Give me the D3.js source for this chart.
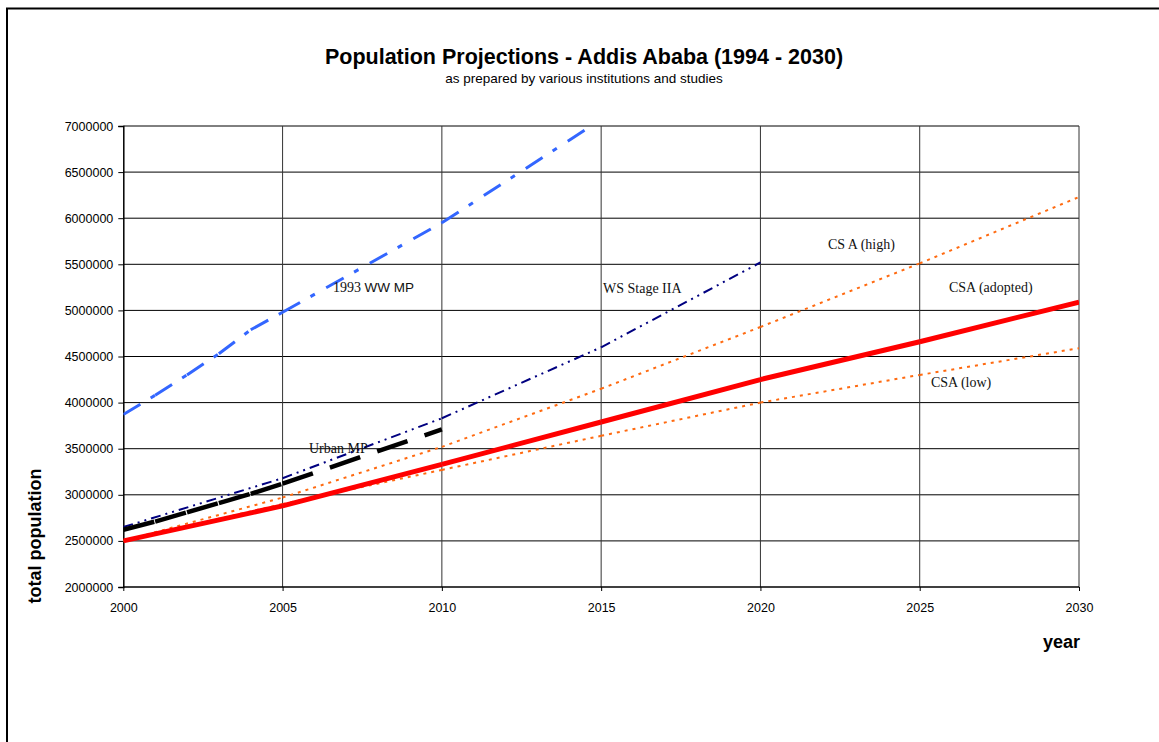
<!DOCTYPE html>
<html>
<head>
<meta charset="utf-8">
<script src="https://cdn.jsdelivr.net/npm/d3@7"></script>
<style>
  html, body { margin: 0; padding: 0; background: #fff; }
  svg { display: block; }
</style>
</head>
<body>
<svg id="chart" width="1159" height="742"></svg>
<script>
// Population projections for Addis Ababa, by source
const wwYears = [2000, 2001, 2002, 2003, 2004, 2005, 2010, 2015];
const wwValues = [3870000, 4080000, 4300000, 4530000, 4790000, 4980000, 5950000, 7070000];

const urbanYears = [2000, 2001, 2002, 2003, 2004, 2005, 2010];
const urbanValues = [2620000, 2710000, 2810000, 2910000, 3010000, 3120000, 3710000];

const wsYears = [2000, 2005, 2010, 2015, 2020];
const wsValues = [2650000, 3180000, 3830000, 4600000, 5520000];

const csaYears = [2000, 2005, 2010, 2015, 2020, 2025, 2030];
const csaHigh = [2500000, 2970000, 3520000, 4150000, 4820000, 5510000, 6230000];
const csaAdopted = [2500000, 2880000, 3330000, 3790000, 4250000, 4660000, 5090000];
const csaLow = [2500000, 2900000, 3270000, 3640000, 4000000, 4300000, 4590000];

const xTicks = [2000, 2005, 2010, 2015, 2020, 2025, 2030];
const yTicks = [2000000, 2500000, 3000000, 3500000, 4000000, 4500000, 5000000, 5500000, 6000000, 6500000, 7000000];

const svg = d3.select("#chart");
const W = 1159, H = 742;
const plot = { left: 123.3, right: 1079, top: 126, bottom: 587 };
const sans = "Liberation Sans, Arial, sans-serif";
const serif = "Liberation Serif, Times New Roman, serif";

const x = d3.scaleLinear().domain([2000, 2030]).range([plot.left, plot.right]);
const y = d3.scaleLinear().domain([2000000, 7000000]).range([plot.bottom, plot.top]);

// outer frame (open towards the right and bottom edges)
svg.append("rect")
  .attr("x", 7).attr("y", 8.5)
  .attr("width", W + 20).attr("height", H + 20)
  .attr("fill", "none").attr("stroke", "#000").attr("stroke-width", 2);

// title
svg.append("text")
  .attr("x", 584).attr("y", 57)
  .attr("text-anchor", "middle").attr("dominant-baseline", "central")
  .attr("font-family", sans)
  .attr("font-weight", "bold").attr("font-size", 21.5)
  .text("Population Projections - Addis Ababa (1994 - 2030)");
svg.append("text")
  .attr("x", 584).attr("y", 78)
  .attr("text-anchor", "middle").attr("dominant-baseline", "central")
  .attr("font-family", sans)
  .attr("font-size", 13.5)
  .text("as prepared by various institutions and studies");

// gridlines
const grid = svg.append("g").attr("class", "grid");
grid.selectAll("line.h").data(yTicks.slice(1)).join("line")
  .attr("class", "h")
  .attr("x1", plot.left).attr("x2", plot.right)
  .attr("y1", d => y(d)).attr("y2", d => y(d))
  .attr("stroke", "#000").attr("stroke-width", 1);
grid.selectAll("line.v").data(xTicks.slice(1)).join("line")
  .attr("class", "v")
  .attr("y1", plot.top).attr("y2", plot.bottom)
  .attr("x1", d => x(d)).attr("x2", d => x(d))
  .attr("stroke", "#333").attr("stroke-width", 1);

// axes
const yAxis = svg.append("g")
  .attr("transform", `translate(${plot.left},0)`)
  .call(d3.axisLeft(y).tickValues(yTicks).tickFormat(d3.format("d")).tickSize(5).tickPadding(5));
const xAxis = svg.append("g")
  .attr("transform", `translate(0,${plot.bottom})`)
  .call(d3.axisBottom(x).tickValues(xTicks).tickFormat(d3.format("d")).tickSize(4).tickPadding(12));
[yAxis, xAxis].forEach(g => {
  g.select(".domain").attr("stroke", "#000").attr("stroke-width", 1.5);
  g.selectAll(".tick line").attr("stroke", "#000");
  g.selectAll("text")
    .attr("font-family", sans)
    .attr("font-size", 12.5).attr("fill", "#000");
});
xAxis.selectAll(".domain").attr("d", `M${plot.left},0H${plot.right}`);

// axis titles
svg.append("text")
  .attr("x", 1080).attr("y", 642)
  .attr("text-anchor", "end").attr("dominant-baseline", "central")
  .attr("font-family", sans)
  .attr("font-weight", "bold").attr("font-size", 18)
  .text("year");
svg.append("text")
  .attr("transform", "translate(35,536) rotate(-90)")
  .attr("text-anchor", "middle").attr("dominant-baseline", "central")
  .attr("font-family", sans)
  .attr("font-weight", "bold").attr("font-size", 18)
  .text("total population");

// clip for the plot area
svg.append("clipPath").attr("id", "plotClip")
  .append("rect")
  .attr("x", plot.left).attr("y", plot.top)
  .attr("width", plot.right - plot.left).attr("height", plot.bottom - plot.top);

const line = d3.line().x(d => x(d[0])).y(d => y(d[1]));
const lines = svg.append("g").attr("clip-path", "url(#plotClip)");

// each segment is stroked on its own so the dash pattern restarts at every data point
function drawSeries(years, values, style) {
  const pts = years.map((yr, i) => [yr, values[i]]);
  const segs = d3.pairs(pts);
  lines.append("g").selectAll("path").data(segs).join("path")
    .attr("d", line)
    .attr("fill", "none")
    .attr("stroke", style.color)
    .attr("stroke-width", style.width)
    .attr("stroke-dasharray", style.dash || null)
    .attr("stroke-linecap", "butt");
}

drawSeries(csaYears, csaHigh, { color: "#ff6a10", width: 2, dash: "3,5" });
drawSeries(csaYears, csaLow, { color: "#ff6a10", width: 2, dash: "3,5" });
drawSeries(wsYears, wsValues, { color: "#000080", width: 2, dash: "10,5,2,5,2,5" });
drawSeries(csaYears, csaAdopted, { color: "#ff0000", width: 5 });
drawSeries(urbanYears, urbanValues, { color: "#000", width: 4.5, dash: "32,18" });
drawSeries(wwYears, wwValues, { color: "#3366ff", width: 3, dash: "20,12,5,13" });

// series labels
const labels = [
  { t: "WS Stage IIA", x: 603, y: 288 },
  { t: "CS A (high)", x: 828, y: 244 },
  { t: "CSA (adopted)", x: 949, y: 287 },
  { t: "CSA (low)", x: 931, y: 382 },
  { t: "Urban MP", x: 309, y: 448 }
];
svg.append("g").selectAll("text").data(labels).join("text")
  .attr("x", d => d.x).attr("y", d => d.y)
  .attr("dominant-baseline", "central")
  .attr("font-family", serif).attr("font-size", 14).attr("fill", "#111")
  .text(d => d.t);

const ww = svg.append("text")
  .attr("x", 333).attr("y", 287)
  .attr("dominant-baseline", "central")
  .attr("font-size", 14).attr("fill", "#111");
ww.append("tspan").attr("font-family", serif).text("1993 ");
ww.append("tspan").attr("font-family", sans).attr("font-size", 13.5).text("WW MP");
</script>
</body>
</html>
